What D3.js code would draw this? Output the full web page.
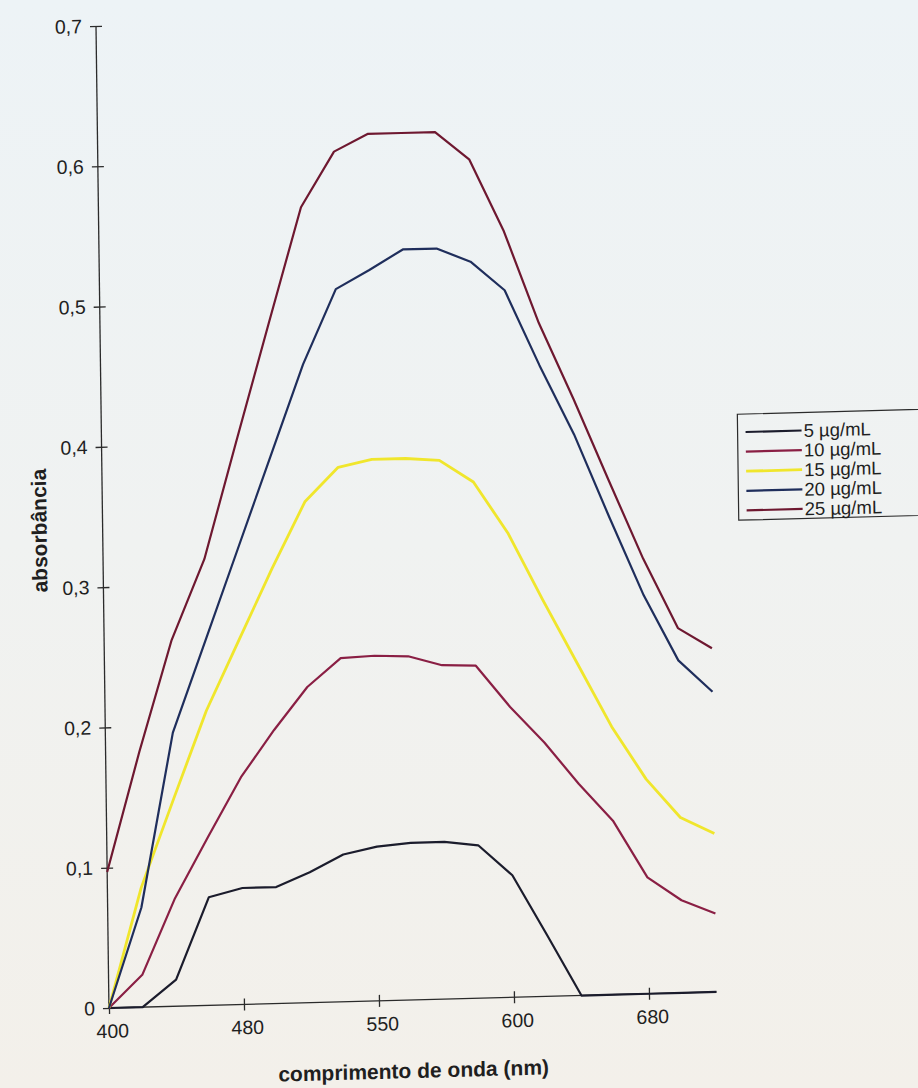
<!DOCTYPE html>
<html lang="pt">
<meta charset="utf-8">
<style>
    html, body {
        margin: 0;
        padding: 0;
    }
    body {
        width: 918px;
        height: 1088px;
        overflow: hidden;
        background: linear-gradient(180deg, #edf3f6 0%, #f0f2f1 50%, #f3f0ea 100%);
    }
    svg { display: block; }
    text {
        font-family: "Liberation Sans", Arial, sans-serif;
        fill: #1f1f1f;
    }
    .axis path, .axis line {
        stroke: #2b2b2b;
        stroke-width: 1.3;
    }
    .axis text { font-size: 19.5px; }
    .title { font-size: 21px; font-weight: bold; }
    .legend text { font-size: 18.5px; }
</style>
<body>
<svg id="svg" width="918" height="1088"></svg>
<script src="https://cdn.jsdelivr.net/npm/d3@7"></script>
<script>
    // wavelength points (only every 4th one is labelled on the axis)
    var pointLabels = ["400", "", "", "", "480", "", "", "", "550", "", "", "", "600", "", "", "", "680", "", ""];
    var yTicks = [0, 0.1, 0.2, 0.3, 0.4, 0.5, 0.6, 0.7];
    var yTickLabels = ["0", "0,1", "0,2", "0,3", "0,4", "0,5", "0,6", "0,7"];

    var seriesNames = ["5 µg/mL", "10 µg/mL", "15 µg/mL", "20 µg/mL", "25 µg/mL"];
    var s5  = [0, 0, 0.019, 0.077, 0.083, 0.083, 0.093, 0.105, 0.110, 0.112, 0.112, 0.109, 0.087, 0.044, 0, 0, 0, 0, 0];
    var s10 = [0, 0.023, 0.077, 0.120, 0.162, 0.195, 0.225, 0.245, 0.246, 0.245, 0.238, 0.237, 0.207, 0.181, 0.151, 0.124, 0.083, 0.066, 0.056];
    var s15 = [0, 0.085, 0.148, 0.210, 0.260, 0.310, 0.357, 0.381, 0.386, 0.386, 0.384, 0.368, 0.331, 0.283, 0.237, 0.191, 0.153, 0.125, 0.113];
    var s20 = [0, 0.071, 0.195, 0.260, 0.325, 0.390, 0.455, 0.508, 0.521, 0.535, 0.535, 0.525, 0.504, 0.450, 0.400, 0.341, 0.284, 0.237, 0.214];
    var s25 = [0.097, 0.182, 0.261, 0.318, 0.402, 0.485, 0.567, 0.606, 0.618, 0.618, 0.618, 0.598, 0.546, 0.480, 0.425, 0.367, 0.310, 0.260, 0.245];
    var seriesColors = ["#1b1c2c", "#8a1f44", "#f0e62c", "#1f2e5c", "#6e1830"];

    var series = [s5, s10, s15, s20, s25].map(function(v, i) {
        return {name: seriesNames[i], values: v, color: seriesColors[i]};
    });

    var svg = d3.select("#svg"),
        width = 607.5,
        height = 982;

    // the page was photographed slightly tilted, so the plot frame is sheared a little
    var g = svg.append("g")
        .attr("transform", "matrix(1,-0.0264,0.0132,1,96,26)");

    var x = d3.scalePoint()
        .domain(d3.range(pointLabels.length))
        .range([0, width]);

    var y = d3.scaleLinear()
        .domain([0, 0.7])
        .range([height, 0]);

    var xAxis = d3.axisBottom(x)
        .tickValues(x.domain().filter(function(i) { return pointLabels[i] !== ""; }))
        .tickFormat(function(i) { return pointLabels[i]; })
        .tickSize(6)
        .tickPadding(10);

    var yAxis = d3.axisLeft(y)
        .tickValues(yTicks)
        .tickFormat(function(d, i) { return yTickLabels[i]; })
        .tickSize(6)
        .tickPadding(8);

    var gx = g.append("g")
        .attr("class", "axis")
        .attr("transform", "translate(0," + height + ")")
        .call(xAxis);
    gx.select(".domain").attr("d", "M0,0H" + width);
    gx.selectAll(".tick line").attr("y1", -6).attr("y2", 6);
    gx.selectAll(".tick text").attr("dx", 3);

    var gy = g.append("g")
        .attr("class", "axis")
        .call(yAxis);
    gy.select(".domain").attr("d", "M0," + height + "V0");
    gy.selectAll(".tick line").attr("x1", -6).attr("x2", 6);

    var line = d3.line()
        .x(function(d, i) { return x(i); })
        .y(function(d) { return y(d); });

    g.append("g")
        .selectAll("path").data(series).enter().append("path")
        .attr("fill", "none")
        .attr("stroke", function(d) { return d.color; })
        .attr("stroke-width", function(d, i) { return i === 2 ? 2.8 : 2.2; })
        .attr("stroke-linejoin", "round")
        .attr("d", function(d) { return line(d.values); });

    // axis titles
    g.append("text")
        .attr("class", "title")
        .attr("transform", "translate(-56," + (height / 2 + 12) + ") rotate(-90)")
        .attr("text-anchor", "middle")
        .text("absorbância");

    g.append("text")
        .attr("class", "title")
        .attr("x", width / 2)
        .attr("y", height + 78)
        .attr("text-anchor", "middle")
        .text("comprimento de onda (nm)");

    // legend
    var legend = g.append("g")
        .attr("class", "legend")
        .attr("transform", "translate(636,405)");

    legend.append("rect")
        .attr("width", 240)
        .attr("height", 106)
        .attr("fill", "none")
        .attr("stroke", "#2b2b2b")
        .attr("stroke-width", 1.2);

    var item = legend.selectAll(".item").data(series).enter().append("g")
        .attr("class", "item")
        .attr("transform", function(d, i) { return "translate(0," + (18 + i * 19.6) + ")"; });

    item.append("line")
        .attr("x1", 8).attr("x2", 64)
        .attr("stroke", function(d) { return d.color; })
        .attr("stroke-width", function(d, i) { return i === 2 ? 2.8 : 2.2; });

    item.append("text")
        .attr("x", 66)
        .attr("dy", "0.35em")
        .text(function(d) { return d.name; });
</script>
</body>
</html>
